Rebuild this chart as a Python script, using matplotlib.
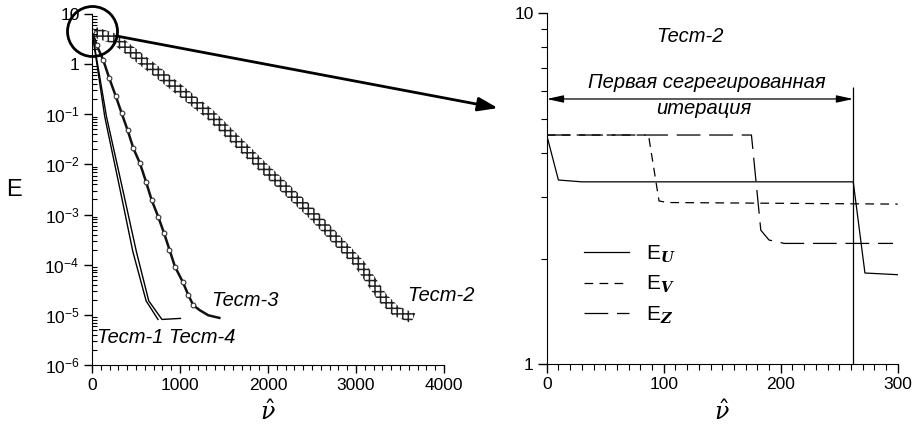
import numpy as np
import matplotlib
matplotlib.use("Agg")
import matplotlib.pyplot as plt
from matplotlib.patches import ConnectionPatch, Polygon
from matplotlib.ticker import FixedLocator, MultipleLocator, NullFormatter, LogLocator

plt.rcParams['font.family'] = ['Liberation Sans', 'DejaVu Sans']
plt.rcParams['mathtext.fontset'] = 'custom'
plt.rcParams['mathtext.rm'] = 'Liberation Sans'
plt.rcParams['mathtext.it'] = 'Liberation Sans:italic'
plt.rcParams['mathtext.bf'] = 'Liberation Sans:bold'
plt.rcParams['hatch.linewidth'] = 1.1

# left panel: residual E vs. iteration number for the four tests
test1_it = [0, 145, 315, 465, 615, 750]
test1_E = [4.5, 0.089, 3.4e-3, 1.8e-4, 1.9e-5, 8.1e-6]
test4_it = [0, 165, 345, 505, 645, 795, 1005]
test4_E = [4.5, 0.089, 3.4e-3, 1.8e-4, 1.9e-5, 8.1e-6, 8.5e-6]
test3_it = [0, 53, 128, 197, 270, 337, 405, 470, 545, 614, 678, 754, 820,
            880, 943, 1030, 1094, 1151, 1227, 1322, 1447]
test3_E = [4.5, 2.4, 1.2, 0.52, 0.23, 0.105, 0.048, 0.021, 0.0105, 4.5e-3,
           1.95e-3, 8.9e-4, 4.2e-4, 2.0e-4, 9.1e-5, 4.6e-5, 2.5e-5, 1.55e-5,
           1.23e-5, 9.8e-6, 8.7e-6]
test2_it = [0, 260, 735, 1340, 1910, 2511, 3045, 3125, 3300, 3450, 3650]
test2_E = [4.5, 3.2, 0.71, 0.1, 0.01, 1e-3, 1e-4, 6.3e-5, 2.2e-5, 1.2e-5, 8.5e-6]

left_yticks = [1e-6, 1e-5, 1e-4, 1e-3, 1e-2, 1e-1, 1, 10]
left_ylabels = ['$10^{-6}$', '$10^{-5}$', '$10^{-4}$', '$10^{-3}$',
                '$10^{-2}$', '$10^{-1}$', '1', '10']

# right panel: first segregated iteration of Test-2
eu_it = [0, 10, 30, 262, 272, 300]
eu_E = [4.5, 3.35, 3.31, 3.31, 1.82, 1.80]
ev_it = [0, 87, 96, 103, 300]
ev_E = [4.5, 4.5, 2.92, 2.89, 2.86]
ez_it = [0, 175, 183, 190, 203, 296]
ez_E = [4.5, 4.5, 2.41, 2.26, 2.21, 2.21]
first_iter_end = 262

fig = plt.figure(figsize=(9.16, 4.28), dpi=100)
ax1 = fig.add_axes([92 / 916, 1 - 365 / 428, 352 / 916, 351 / 428])
ax2 = fig.add_axes([546.7 / 916, 1 - 364.3 / 428, 351 / 916, 351 / 428])

ax1.set_yscale('log')
ax1.set_xlim(0, 4000)
ax1.set_ylim(1e-6, 10)

ax1.plot(test1_it, test1_E, color='k', lw=1.0)
ax1.plot(test4_it, test4_E, color='k', lw=1.0)
ax1.plot(test3_it, test3_E, color='#111', lw=1.8, marker='o', ms=3.4,
         mfc='white', mec='#333', mew=0.8, markevery=range(0, 18))

# Test-2 drawn as a cross-hatched band (overlapping square symbols)
pts = ax1.transData.transform(np.column_stack([test2_it, test2_E]))
seg = np.diff(pts, axis=0)
seg /= np.hypot(seg[:, 0], seg[:, 1])[:, None]
tang = np.vstack([seg[:1], seg[:-1] + seg[1:], seg[-1:]])
tang /= np.hypot(tang[:, 0], tang[:, 1])[:, None]
nrm = np.column_stack([-tang[:, 1], tang[:, 0]])
half = 5.3
band = np.vstack([pts + nrm * half, (pts - nrm * half)[::-1]])
band = ax1.transData.inverted().transform(band)
ax1.add_patch(Polygon(band, closed=True, facecolor='none', edgecolor='#222',
                      lw=0, hatch='+++'))

# zoom circle around the start of Test-2
ax1.plot([0], [4.5], marker='o', ms=36, mfc='none', mec='k', mew=2.0,
         clip_on=False, zorder=5)

ax1.yaxis.set_major_locator(FixedLocator(left_yticks))
ax1.set_yticklabels(left_ylabels)
ax1.yaxis.set_minor_locator(LogLocator(base=10, subs=np.arange(2, 10)))
ax1.yaxis.set_minor_formatter(NullFormatter())
ax1.xaxis.set_major_locator(MultipleLocator(1000))
ax1.xaxis.set_minor_locator(MultipleLocator(100))
ax1.tick_params(which='major', direction='out', length=6, width=1, labelsize=12.5, pad=3)
ax1.tick_params(axis='y', which='minor', direction='in', length=3.5, width=0.8)
ax1.tick_params(axis='x', which='minor', direction='out', length=3.5, width=0.8)
for s in ('top', 'right'):
    ax1.spines[s].set_visible(False)
ax1.set_xlabel(r'$\hat{\nu}$', fontsize=17, math_fontfamily='dejavuserif', labelpad=6)
ax1.set_ylabel('E', fontsize=17, rotation=0, labelpad=22, va='center')

lab = dict(fontsize=14.5, style='italic')
ax1.text(50, 3.6e-6, 'Тест-1', ha='left', va='center', **lab)
ax1.text(870, 3.6e-6, 'Тест-4', ha='left', va='center', **lab)
ax1.text(1360, 1.95e-5, 'Тест-3', ha='left', va='center', **lab)
ax1.text(3580, 2.45e-5, 'Тест-2', ha='left', va='center', clip_on=False, **lab)

# right panel
ax2.plot(eu_it, eu_E, color='k', lw=0.9, label=r'E$_{\mathbfit{U}}$')
ax2.plot(ev_it, ev_E, color='k', lw=0.9, dashes=(7, 5), label=r'E$_{\mathbfit{V}}$')
ax2.plot(ez_it, ez_E, color='k', lw=0.9, dashes=(19, 7), label=r'E$_{\mathbfit{Z}}$')
ax2.vlines(first_iter_end, 1, 6.17, color='k', lw=0.9)
ax2.annotate('', xy=(0, 5.7), xytext=(first_iter_end, 5.7),
             arrowprops=dict(arrowstyle='<|-|>,head_length=1.0,head_width=0.22',
                             color='k', lw=0.9, shrinkA=0, shrinkB=0))
ax2.text(137, 6.35, 'Первая сегрегированная', ha='center', va='center', **lab)
ax2.text(134.6, 5.37, 'итерация', ha='center', va='center', **lab)
ax2.text(122.6, 8.58, 'Тест-2', ha='center', va='center', **lab)

ax2.set_yscale('log')
ax2.set_xlim(0, 300)
ax2.set_ylim(1, 10)
ax2.yaxis.set_major_locator(FixedLocator([1, 10]))
ax2.set_yticklabels(['1', '10'])
ax2.yaxis.set_minor_locator(LogLocator(base=10, subs=np.arange(2, 10)))
ax2.yaxis.set_minor_formatter(NullFormatter())
ax2.xaxis.set_major_locator(MultipleLocator(100))
ax2.xaxis.set_minor_locator(MultipleLocator(10))
ax2.tick_params(which='major', direction='out', length=6.5, width=1, labelsize=12.5, pad=3)
ax2.tick_params(which='minor', direction='out', length=4, width=0.8)
for s in ('top', 'right'):
    ax2.spines[s].set_visible(False)
ax2.set_xlabel(r'$\hat{\nu}$', fontsize=17, math_fontfamily='dejavuserif', labelpad=6)

ax2.legend(loc='upper left', bbox_to_anchor=(0.105, 0.345), frameon=False,
           handlelength=2.2, handletextpad=0.8, labelspacing=0.45, borderpad=0,
           borderaxespad=0, prop=dict(size=15, math_fontfamily='dejavuserif'))

# arrow from the circle to the zoomed panel
con = ConnectionPatch(xyA=(0, 4.5), coordsA=ax1.transData,
                      xyB=(-0.139, 0.73), coordsB=ax2.transAxes,
                      arrowstyle='-|>,head_length=1.0,head_width=0.35',
                      mutation_scale=12, lw=2.0, color='k', shrinkA=18, shrinkB=0)
fig.add_artist(con)

fig.savefig('out.png', dpi=100)
